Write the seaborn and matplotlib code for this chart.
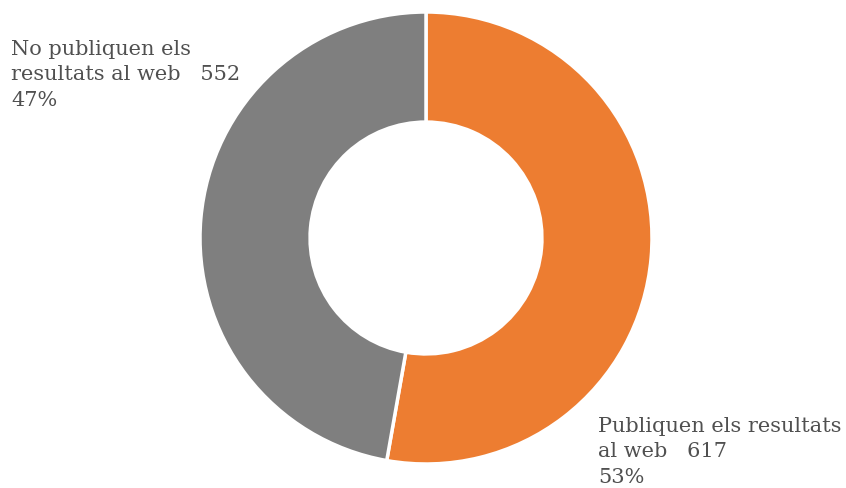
import matplotlib
matplotlib.use("Agg")
import matplotlib.pyplot as plt
import seaborn as sns

# Web publication of results
categories = ["Publiquen els resultats\nal web", "No publiquen els\nresultats al web"]
values = [617, 552]
colors = ["#ED7D31", "#7F7F7F"]

sns.set_theme(style="white")
palette = sns.color_palette(colors)
plt.rcParams["font.family"] = ["DejaVu Serif"]

W, H = 846, 488
fig = plt.figure(figsize=(W / 100, H / 100), dpi=100)
ax = fig.add_axes([0, 0, 1, 1])

cx, cy, r_px = 426, 238, 226
ax.pie(values, colors=palette, startangle=90, counterclock=False, radius=1.0,
       wedgeprops=dict(width=0.487, edgecolor="white", linewidth=2.5))
ax.set_aspect("equal")
ax.set_xlim(-cx / r_px, (W - cx) / r_px)
ax.set_ylim(-(H - cy) / r_px, cy / r_px)
ax.axis("off")

total = sum(values)
labels = [f"{c}   {v}\n{round(100 * v / total)}%" for c, v in zip(categories, values)]

txt_kw = dict(fontsize=15, color="#505050", ha="left", va="top", linespacing=1.42)
fig.text(598 / W, 1 - 417 / H, labels[0], **txt_kw)
fig.text(11 / W, 1 - 40 / H, labels[1], **txt_kw)

fig.savefig("out.png", dpi=100, facecolor="white")
